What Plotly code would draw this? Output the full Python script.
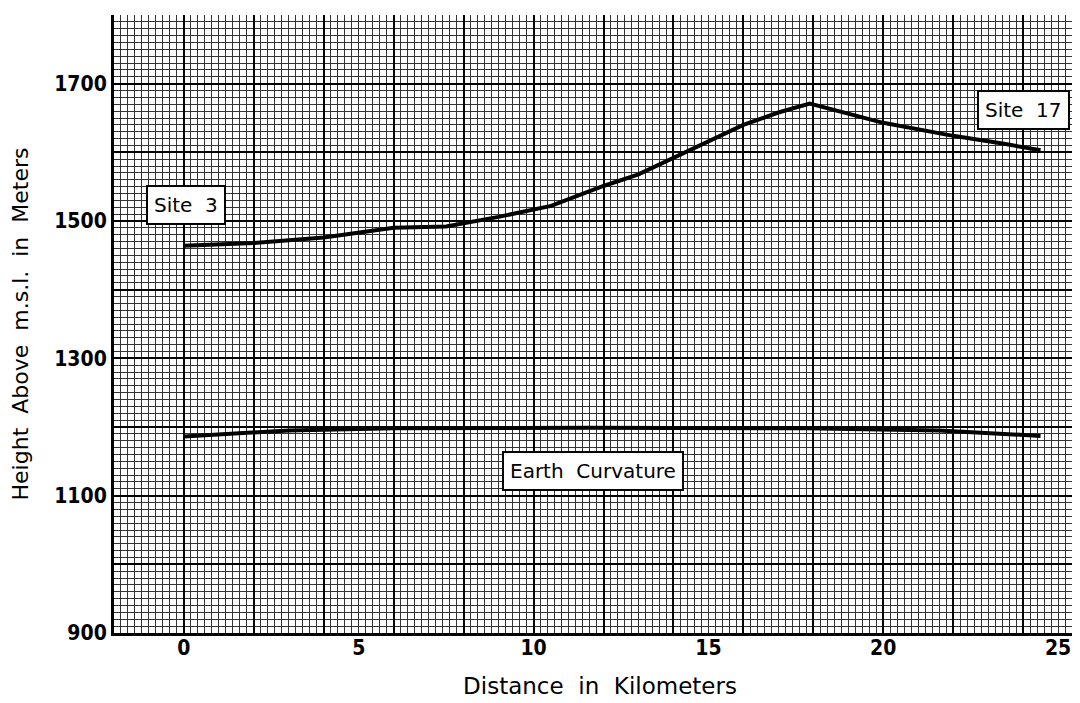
import plotly.graph_objects as go

# ---- data ----
terrain_km = [0, 2, 4, 6, 7.5, 9, 10.5, 12, 13, 14, 15, 16, 17, 17.9, 20, 22, 23.5, 24.5]
terrain_m = [1464, 1468, 1476, 1490, 1492, 1506, 1522, 1551, 1568, 1592, 1616, 1640, 1658, 1671, 1643, 1624, 1612, 1603]

curv_km = [0, 3, 6, 11.6, 17.8, 21.6, 24.5]
curv_m = [1186, 1195, 1198, 1199, 1198, 1195, 1187]

x_tick_vals = [0, 5, 10, 15, 20, 25]
y_tick_vals = [900, 1100, 1300, 1500, 1700]
y_grid_vals = list(range(900, 1801, 100))

label_text = ["Site\u00a0\u00a03", "Site\u00a0\u00a017", "Earth\u00a0\u00a0Curvature"]
label_x = [0.05, 24.0, 11.7]
label_y = [1524, 1661, 1136]

x_title = "Distance\u00a0\u00a0in\u00a0\u00a0Kilometers"
y_title = "Height\u00a0\u00a0Above\u00a0\u00a0m.s.l.\u00a0\u00a0in\u00a0\u00a0Meters"

TEXT_FONT = "DejaVu Sans, Liberation Sans, sans-serif"
TICK_FONT = "DejaVu Sans Condensed, Liberation Sans Narrow, Arial Narrow, sans-serif"

fig = go.Figure()
fig.add_trace(go.Scatter(x=terrain_km, y=terrain_m, mode="lines",
                         line=dict(color="black", width=4), showlegend=False,
                         hoverinfo="skip"))
fig.add_trace(go.Scatter(x=curv_km, y=curv_m, mode="lines",
                         line=dict(color="black", width=4), showlegend=False,
                         hoverinfo="skip"))
# invisible trace to carry the labelled x axis
fig.add_trace(go.Scatter(x=x_tick_vals, y=[y_tick_vals[0]] * len(x_tick_vals), mode="markers",
                         marker=dict(opacity=0), xaxis="x2", showlegend=False,
                         hoverinfo="skip"))

for t, xx, yy in zip(label_text, label_x, label_y):
    fig.add_annotation(x=xx, y=yy, xref="x", yref="y", text=t, showarrow=False,
                       font=dict(family=TEXT_FONT, size=20, color="black"),
                       bgcolor="white", bordercolor="black", borderwidth=2,
                       borderpad=6)

xr = [-2, 25.8]
tickfont = dict(family=TICK_FONT, size=21, color="black", weight="bold")
fig.update_layout(
    width=1080, height=703,
    margin=dict(l=106, r=2, t=7, b=78),
    paper_bgcolor="white", plot_bgcolor="white",
    xaxis=dict(range=xr, tick0=0, dtick=2, showticklabels=False, ticks="",
               showgrid=True, gridcolor="black", gridwidth=2,
               minor=dict(tick0=0, dtick=0.2, showgrid=True, gridcolor="#333333", gridwidth=1),
               showline=True, linecolor="black", linewidth=3, zeroline=False,
               layer="below traces"),
    xaxis2=dict(range=xr, overlaying="x", anchor="y", side="bottom",
                tickvals=x_tick_vals, ticktext=[str(v) for v in x_tick_vals],
                ticks="", showgrid=False, zeroline=False, showline=False,
                tickfont=tickfont,
                title=dict(text=x_title, font=dict(family=TEXT_FONT, size=23, color="black"),
                           standoff=18)),
    yaxis=dict(range=[900, 1800], tickvals=y_grid_vals,
               ticktext=[str(v) if v in y_tick_vals else "" for v in y_grid_vals],
               ticks="", showgrid=True, gridcolor="black", gridwidth=2,
               minor=dict(tick0=900, dtick=10, showgrid=True, gridcolor="#333333", gridwidth=1),
               showline=True, linecolor="black", linewidth=3, zeroline=False,
               tickfont=tickfont,
               title=dict(text=y_title, font=dict(family=TEXT_FONT, size=22, color="black"),
                          standoff=20)),
)

fig.write_html("out.html")
